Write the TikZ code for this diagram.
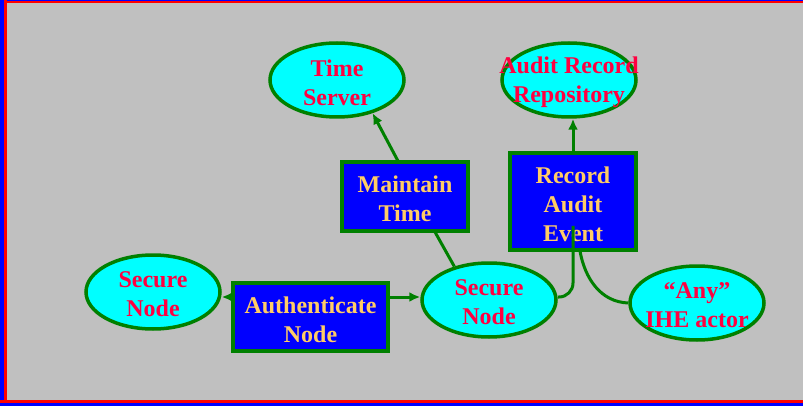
\documentclass[tikz,border=0pt]{standalone}
\usepackage{fontspec}
\setmainfont{Liberation Serif}
\usetikzlibrary{shapes.geometric,arrows.meta}
\definecolor{panel}{HTML}{C0C0C0}
\definecolor{actorfill}{HTML}{00FFFF}
\definecolor{actortext}{HTML}{FF0040}
\definecolor{edge}{HTML}{008000}
\definecolor{txfill}{HTML}{0000FF}
\definecolor{txtext}{HTML}{FFCC66}
\tikzset{
  labelfont/.style={font=\bfseries\fontsize{24}{29}\selectfont, align=center},
  actor/.style={ellipse, draw=edge, line width=3.5pt, fill=actorfill,
    minimum width=134pt, minimum height=74pt, inner sep=0pt,
    label={[labelfont, text=actortext, yshift=-2.5pt]center:#1}},
  trans/.style={rectangle, draw=edge, line width=3.5pt, fill=txfill,
    inner sep=0pt,
    label={[labelfont, text=txtext, yshift=-2.5pt]center:#1}},
  link/.style={draw=edge, line width=3pt},
  arrowlink/.style={link, -{Latex[length=11pt,width=10pt]}},
}
\begin{document}
\begin{tikzpicture}[x=1pt, y=-1pt]
  % canvas and frame
  \useasboundingbox (0,0) rectangle (803,406);
  \fill[panel] (0,0) rectangle (803,406);
  \fill[red] (0,0) rectangle (803,3.5);
  \fill[blue] (0,0) rectangle (803,1);
  \fill[red] (0,0) rectangle (7,406);
  \fill[blue] (0,0) rectangle (3.5,406);
  \fill[red] (0,400) rectangle (803,406);
  \fill[blue] (0,403) rectangle (803,406);

  % actors
  \node[actor={Time\\Server}] (ts)  at (337,80)  {};
  \node[actor={Audit Record\\Repository}] (arr) at (569,80)  {};
  \node[actor={Secure\\Node}] (sn1) at (153,292) {};
  \node[actor={Secure\\Node}] (sn2) at (489,300) {};
  \node[actor={``Any''\\IHE actor}] (any) at (697,303) {};

  % transactions
  \node[trans={Maintain\\Time}, minimum width=126pt, minimum height=69pt] (mt) at (405,196.5) {};
  \node[trans={Record\\Audit\\Event}, minimum width=126pt, minimum height=97pt] (rae) at (573,201.5) {};
  \node[trans={Authenticate\\Node}, minimum width=155pt, minimum height=68pt] (an) at (310.5,317) {};

  % connectors
  \coordinate (mtTop) at (398,161);
  \coordinate (mtBot) at (435,232);
  \coordinate (raeIn) at (573,226);
  \coordinate (raeBot) at (580,251);
  \coordinate (anL) at (232,297);
  \coordinate (anR) at (389,297);
  \draw[arrowlink] (mtTop) -- (ts.-43);
  \draw[link] (mtBot) -- (sn2.136);
  \draw[arrowlink] (rae.north) -- (arr.south -| rae.north);
  \draw[arrowlink] (anL) -- (sn1.east |- anL);
  \draw[arrowlink] (anR) -- (sn2.west |- anR);
  \draw[link, rounded corners=14pt] (raeIn) |- ([yshift=3pt]sn2.east);
  \draw[link] (raeBot) to[out=-80, in=178] (any.west);
\end{tikzpicture}
\end{document}
